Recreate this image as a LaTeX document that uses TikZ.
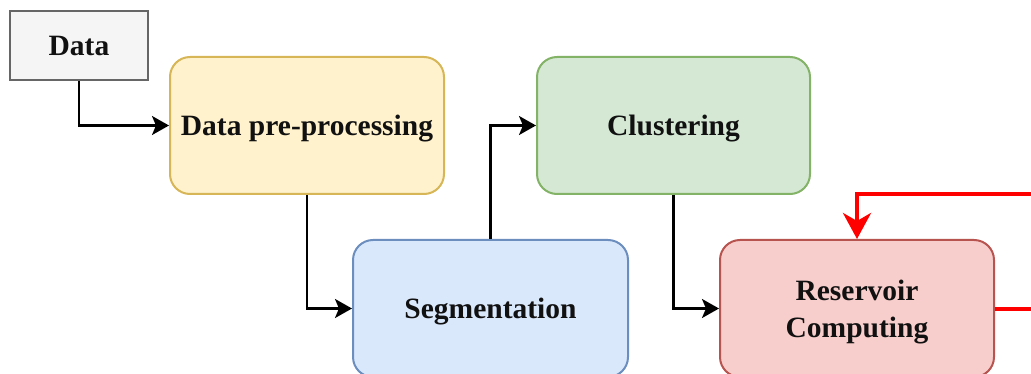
\documentclass[tikz,border=0pt]{standalone}
\usepackage{fontspec}
\setmainfont{Liberation Serif}
\usetikzlibrary{arrows.meta}
\definecolor{grayfill}{HTML}{F5F5F5}
\definecolor{grayline}{HTML}{666666}
\definecolor{yelfill}{HTML}{FFF2CC}
\definecolor{yelline}{HTML}{D6B656}
\definecolor{grnfill}{HTML}{D5E8D4}
\definecolor{grnline}{HTML}{82B366}
\definecolor{blufill}{HTML}{DAE8FC}
\definecolor{bluline}{HTML}{6C8EBF}
\definecolor{redfill}{HTML}{F8CECC}
\definecolor{redline}{HTML}{B85450}
\definecolor{loopred}{HTML}{FF0000}
\definecolor{ink}{HTML}{111111}
\tikzset{
  box/.style={draw, line width=2pt, rounded corners=20pt,
    minimum width=274pt, minimum height=137pt, inner sep=0pt,
    text depth=0pt, text=ink,
    align=center, font=\fontsize{29.5}{36}\selectfont\bfseries},
  plainbox/.style={draw=grayline, fill=grayfill, line width=2pt,
    minimum width=138pt, minimum height=69pt, inner sep=0pt,
    text depth=0pt, text=ink,
    font=\fontsize{29.5}{36}\selectfont\bfseries},
  link/.style={line width=2.2pt, black, -{Stealth[length=17pt,width=19pt,inset=4pt]}},
  loop/.style={line width=4pt, loopred, line join=miter},
}
\begin{document}
\begin{tikzpicture}[x=1pt,y=-1pt]
  \useasboundingbox (0,0) rectangle (1031,374);
  \clip (0,0) rectangle (1031,374);

  % process blocks
  \node[plainbox] (data) at (79,45.5) {Data};
  \node[box, draw=yelline, fill=yelfill] (prep) at (307,125.5) {Data pre-processing};
  \node[box, draw=grnline, fill=grnfill, minimum width=273pt] (clust) at (673.5,125.5) {Clustering};
  \node[box, draw=bluline, fill=blufill, minimum width=275pt] (seg) at (490.5,308.5) {Segmentation};
  \node[box, draw=redline, fill=redfill] (rc) at (857,308.5) {Reservoir\\[1pt]Computing};

  % flow between blocks
  \draw[link] (data.south) |- (prep.west);
  \draw[link] (prep.south) |- (seg.west);
  \draw[link] (seg.north) |- (clust.west);
  \draw[link] (clust.south) |- (rc.west);

  % feedback loop leaving to the right
  \coordinate (outR) at (1045,308.5);
  \coordinate (inR) at (1045,194);
  \draw[loop] (rc.east) -- (outR);
  \draw[loop, -{Stealth[length=26pt,width=28pt,inset=8pt]}]
    (inR) -- (rc.north |- inR) -- (rc.north);
\end{tikzpicture}
\end{document}
